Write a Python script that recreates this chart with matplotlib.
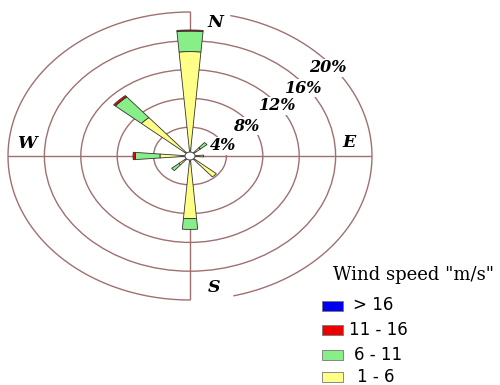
import numpy as np
import matplotlib
matplotlib.use('Agg')
import matplotlib.pyplot as plt
from matplotlib.patches import Rectangle

# wind rose frequencies (%) per direction, one list per speed class
directions = ['N', 'NE', 'E', 'SE', 'S', 'SW', 'W', 'NW']
bearings = [0, 45, 90, 135, 180, 225, 270, 315]
speed_1_6 = [14.5, 1.5, 1.5, 3.8, 8.7, 1.6, 3.3, 7.0]
speed_6_11 = [2.85, 0.95, 0.0, 0.0, 1.5, 1.05, 2.7, 3.75]
speed_11_16 = [0.15, 0.0, 0.0, 0.0, 0.0, 0.0, 0.26, 0.25]
speed_gt16 = [0, 0, 0, 0, 0, 0, 0, 0]

speed_classes = ['> 16', '11 - 16', '6 - 11', '1 - 6']
class_colors = ['#0000ee', '#ee0000', '#88ee88', '#ffff88']

ring_values = [4, 8, 12, 16, 20]
ring_labels = ['4%', '8%', '12%', '16%', '20%']

W, H = 500, 385
fig = plt.figure(figsize=(W / 100, H / 100), dpi=100)

# elliptical (stretched) polar axes
ax = fig.add_axes([8 / W, 1 - 300 / H, 364 / W, 288 / H], projection='polar')
ax.set_aspect('auto')
ax.set_theta_zero_location('N')
ax.set_theta_direction(-1)
ax.set_ylim(0, 20)
ax.spines['polar'].set_visible(False)
ring_col = '#a07070'
ax.set_rgrids(ring_values[:-1], labels=[''] * 4)
ax.set_thetagrids([0, 90, 180, 270], labels=[''] * 4)
ax.grid(color=ring_col, linewidth=1.0)
ax.set_axisbelow(True)

# outer 20% ring, broken near the N and S labels
t1 = np.radians(np.linspace(13, 166, 200))
t2 = np.radians(np.linspace(180, 360, 200))
ax.plot(t1, np.full_like(t1, 20), color=ring_col, lw=1.0, zorder=1, clip_on=False)
ax.plot(t2, np.full_like(t2, 20), color=ring_col, lw=1.0, zorder=1, clip_on=False)

# stacked wedges
theta = np.radians(bearings)
bottom = np.zeros(len(directions))
series = [speed_1_6, speed_6_11, speed_11_16, speed_gt16]
colors = class_colors[::-1]
for vals, col in zip(series, colors):
    vals = np.array(vals, dtype=float)
    m = vals > 0
    if m.any():
        ax.bar(theta[m], vals[m], width=np.radians(9.5), bottom=bottom[m],
               color=col, edgecolor='#333333', linewidth=0.6, zorder=3)
    bottom += vals

# small hole in the middle
tc = np.linspace(0, 2 * np.pi, 100)
ax.fill(tc, np.full_like(tc, 0.55), facecolor='white', edgecolor='#555555',
        linewidth=0.8, zorder=4)

# percentage labels sitting on the rings
lab_pos = [(69, 3.9), (56, 7.45), (54, 11.9), (53, 15.6), (51, 19.5)]
for (b, r), txt in zip(lab_pos, ring_labels):
    ax.text(np.radians(b), r, txt, family='DejaVu Serif', weight='bold',
            style='italic', size=11.5, ha='center', va='center', zorder=5,
            bbox=dict(facecolor='white', edgecolor='none', pad=0.3))

# compass letters
comp = [('N', 8.7, 18.8), ('E', 84, 17.6), ('S', 171.7, 18.4), ('W', 275.7, 18.0)]
for txt, b, r in comp:
    ax.text(np.radians(b), r, txt, family='DejaVu Serif', weight='bold',
            style='italic', size=12.5, ha='center', va='center', zorder=5)

# legend drawn by hand in pixel positions
fig.text(333 / W, 1 - 275 / H, 'Wind speed "m/s"', family='DejaVu Serif',
         size=13, ha='left', va='center')
rows = [305.5, 330, 355, 377]
text_x = [353, 349, 354, 357]
for lab, col, y, tx in zip(speed_classes, class_colors, rows, text_x):
    fig.patches.append(Rectangle((322 / W, 1 - (y + 5) / H), 21 / W, 10 / H,
                                 transform=fig.transFigure, facecolor=col,
                                 edgecolor='#777777', linewidth=0.6))
    fig.text(tx / W, 1 - y / H, lab, family='DejaVu Sans', size=12,
             ha='left', va='center')

fig.savefig('out.png', dpi=100)
